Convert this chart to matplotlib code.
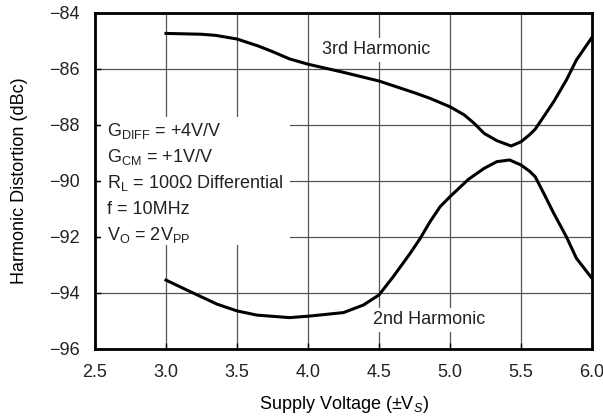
import matplotlib

matplotlib.use("Agg")
import matplotlib.pyplot as plt
from matplotlib.patches import Rectangle

# supply voltage (±V) and distortion (dBc)
x_third = [3.0, 3.25, 3.35, 3.5, 3.65, 3.75, 3.87, 4.0, 4.25, 4.5, 4.75, 4.86,
           5.0, 5.1, 5.17, 5.24, 5.33, 5.43, 5.5, 5.56, 5.6, 5.66, 5.73, 5.82,
           5.89, 6.0]
y_third = [-84.73, -84.76, -84.80, -84.93, -85.18, -85.38, -85.64, -85.83,
           -86.12, -86.43, -86.85, -87.05, -87.35, -87.64, -87.94, -88.30,
           -88.56, -88.75, -88.60, -88.35, -88.15, -87.70, -87.17, -86.39,
           -85.68, -84.87]

x_second = [3.0, 3.17, 3.36, 3.5, 3.64, 3.87, 4.0, 4.25, 4.39, 4.5, 4.6, 4.72,
            4.79, 4.86, 4.93, 5.0, 5.13, 5.24, 5.33, 5.42, 5.5, 5.56, 5.6,
            5.66, 5.73, 5.82, 5.89, 6.0]
y_second = [-93.54, -93.95, -94.40, -94.64, -94.79, -94.88, -94.83, -94.70,
            -94.43, -94.07, -93.42, -92.58, -92.05, -91.45, -90.92, -90.56,
            -89.94, -89.55, -89.31, -89.25, -89.43, -89.65, -89.85, -90.44,
            -91.15, -92.00, -92.76, -93.48]

x_ticks = [2.5, 3.0, 3.5, 4.0, 4.5, 5.0, 5.5, 6.0]
y_ticks = [-96, -94, -92, -90, -88, -86, -84]

conditions = [
    r"G$_{\mathrm{DIFF}}$ = +4V/V",
    r"G$_{\mathrm{CM}}$ = +1V/V",
    r"R$_{\mathrm{L}}$ = 100Ω Differential",
    r"f = 10MHz",
    r"V$_{\mathrm{O}}$ = 2V$_{\mathrm{PP}}$",
]

plt.rcParams.update(
    {
        "font.family": ["Liberation Sans", "DejaVu Sans"],
        "font.size": 13,
        "mathtext.fontset": "custom",
        "mathtext.rm": "Liberation Sans",
        "mathtext.it": "Liberation Sans:italic",
        "mathtext.bf": "Liberation Sans:bold",
        "text.color": "#222222",
    }
)

fig = plt.figure(figsize=(6.03, 4.17), dpi=100)
ax = fig.add_axes([0.1575, 0.1631, 0.8243, 0.8058])

ax.plot(x_third, y_third, color="black", lw=2.2, zorder=4)
ax.plot(x_second, y_second, color="black", lw=2.2, zorder=4)

ax.set_xlim(2.5, 6.0)
ax.set_ylim(-96, -84)
ax.set_xticks(x_ticks)
ax.set_yticks(y_ticks)
ax.set_xticklabels([f"{v:.1f}" for v in x_ticks])
ax.set_axisbelow(True)
ax.grid(True, color="#555555", lw=0.9)
ax.tick_params(direction="in", length=4, width=1, colors="black",
               labelcolor="#222222", labelsize=13)
ax.tick_params(axis="x", pad=11)
ax.tick_params(axis="y", pad=11)
for side in ax.spines.values():
    side.set_linewidth(2)
    side.set_color("black")

ax.set_xlabel(r"Supply Voltage (±V$_{S}$)", fontsize=13)
ax.set_ylabel("Harmonic Distortion (dBc)", fontsize=13)
ax.xaxis.set_label_coords(0.5, -0.135)
ax.yaxis.set_label_coords(-0.135, 0.5)

# white panel behind the test conditions
ax.add_patch(Rectangle((2.545, -92.29), 3.873 - 2.545, 92.29 - 87.71,
                       facecolor="white", edgecolor="none", zorder=1))
for i, line in enumerate(conditions):
    ax.text(2.585, -88.39 - i * 0.93, line, ha="left", va="baseline",
            zorder=3)

box = dict(facecolor="white", edgecolor="none", pad=2.5)
ax.text(4.10, -85.32, "3rd Harmonic", ha="left", va="center", bbox=box,
        zorder=3)
ax.text(4.46, -94.96, "2nd Harmonic", ha="left", va="center", bbox=box,
        zorder=3)

fig.savefig("out.png", dpi=100)
